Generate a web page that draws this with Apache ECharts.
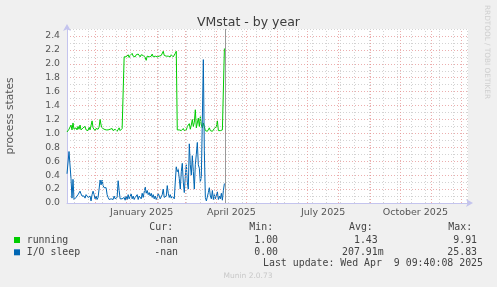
<!DOCTYPE html>
<html><head><meta charset="utf-8">
<script src="https://cdn.jsdelivr.net/npm/echarts@6/dist/echarts.min.js"></script>
<style>html,body{margin:0;padding:0;background:#f0f0f0;}#c{width:497px;height:287px;}</style>
</head><body><div id="c"></div>
<script>
// ---- data ----
const firstDate = '2024-11-03';   // date of the first daily value
const axisStart = '2024-11-03';
const axisEnd = '2025-12-08';
const running = [
  1.02,1.03,1.06,1.04,1.12,1.05,1.15,1.06,1.04,1.08,
  1.05,1.10,1.06,1.12,1.05,1.04,1.08,1.06,1.10,1.05,
  1.07,1.04,1.09,1.05,1.06,1.18,1.08,1.06,1.04,1.07,
  1.05,1.06,1.09,1.20,1.12,1.08,1.10,1.06,1.08,1.05,
  1.07,1.05,1.04,1.06,1.05,1.07,1.04,1.03,1.06,1.05,
  1.03,1.05,1.08,1.04,1.05,1.07,1.05,
  2.10,2.12,2.10,2.11,2.13,2.09,2.12,2.10,2.15,2.11,
  2.12,2.10,2.13,2.11,2.14,2.12,2.10,2.13,2.11,2.12,
  2.14,2.09,2.05,2.11,2.13,2.10,2.12,2.11,2.14,2.10,
  2.12,2.11,2.13,2.10,2.12,2.11,2.13,2.12,2.14,2.18,
  2.12,2.10,2.11,2.13,2.11,2.12,2.10,2.13,2.11,2.10,
  2.12,2.15,2.18,
  1.05,1.03,1.05,1.06,1.04,1.05,1.07,1.04,1.06,1.05,
  1.10,1.08,1.14,1.06,1.12,1.20,1.10,1.16,1.34,1.08,
  1.15,1.22,1.10,1.24,1.12,1.08,1.15,1.10,1.04,1.06,
  1.03,1.05,1.08,1.04,1.06,1.03,1.05,1.07,1.05,1.10,
  1.18,1.04,1.06,1.04,1.05,1.05,1.05,2.22
];
const ioSleep = [
  0.42,0.40,0.74,0.72,0.35,0.07,0.34,0.05,0.06,0.08,
  0.10,0.12,0.14,0.17,0.13,0.10,0.08,0.10,0.07,0.12,
  0.13,0.08,0.06,0.10,0.03,0.12,0.17,0.12,0.06,0.10,
  0.05,0.08,0.20,0.33,0.26,0.33,0.25,0.22,0.20,0.22,
  0.12,0.08,0.05,0.04,0.06,0.08,0.05,0.10,0.06,0.05,
  0.08,0.32,0.18,0.06,0.05,0.06,0.05,0.08,0.04,0.10,
  0.05,0.12,0.06,0.08,0.13,0.06,0.10,0.05,0.08,0.07,
  0.12,0.05,0.10,0.08,0.06,0.14,0.08,0.10,0.23,0.14,
  0.18,0.12,0.15,0.10,0.14,0.08,0.12,0.06,0.10,0.05,
  0.08,0.14,0.10,0.06,0.05,0.12,0.20,0.08,0.06,0.10,
  0.25,0.14,0.08,0.12,0.07,0.10,0.08,0.06,0.30,0.52,
  0.45,0.48,0.35,0.20,0.45,0.57,0.30,0.15,0.38,0.55,
  0.30,0.20,0.85,0.55,0.40,0.68,0.45,0.20,0.55,0.70,
  0.87,0.55,0.50,0.30,0.38,1.20,2.06,0.75,0.08,0.03,
  0.05,0.15,0.22,0.10,0.06,0.18,0.05,0.12,0.06,0.08,
  0.16,0.05,0.10,0.06,0.14,0.04,0.18,0.28
];
const seriesNames = ['running', 'I/O sleep'];
const monthStarts = ['2024-11-01','2024-12-01','2025-01-01','2025-02-01','2025-03-01','2025-04-01',
  '2025-05-01','2025-06-01','2025-07-01','2025-08-01','2025-09-01','2025-10-01','2025-11-01','2025-12-01','2026-01-01'];
const labelMonths = ['2025-01-01','2025-04-01','2025-07-01','2025-10-01'];
const tickLabels = ['January 2025','April 2025','July 2025','October 2025'];
const firstMinorLine = '2024-11-10';
const minorStepDays = 14;
const nowTime = '2025-04-09T09:40:08Z';
const statHeads = ['Cur:','Min:','Avg:','Max:'];
const curVals = ['-nan','-nan'];
const minVals = ['1.00','0.00'];
const avgVals = ['1.43','207.91m'];
const maxVals = ['9.91','25.83'];
const lastUpdate = 'Last update: Wed Apr  9 09:40:08 2025';
const titleText = 'VMstat - by year';
const yName = 'process states';
const sideText = 'RRDTOOL / TOBI OETIKER';
const footer = 'Munin 2.0.73';

// ---- helpers ----
const DAY = 86400000;
const ref = Date.UTC(2025,0,1);
const dayOf = s => (Date.parse(s.length === 10 ? s + 'T00:00:00Z' : s) - ref) / DAY;
const d0 = dayOf(firstDate);
const toPairs = arr => arr.map((v, i) => [d0 + i, v]);
const xMin = dayOf(axisStart), xMax = dayOf(axisEnd);

const monthDays = monthStarts.map(dayOf);
const labelPos = labelMonths.map(m => {
  const i = monthStarts.indexOf(m);
  return (monthDays[i] + monthDays[i + 1]) / 2;
});
const minorDays = [];
for (let d = dayOf(firstMinorLine); d <= xMax; d += minorStepDays) minorDays.push(d);

const RED = 'rgba(228,140,140,0.7)';
const GRAY = 'rgba(200,200,200,0.8)';
const AXIS = '#c4c4ee';
const mono = 'DejaVu Sans Mono';
const green = '#00cc00', blue = '#0066b3';

const colRight = [184, 284, 383.7, 483];
const rowY = [240, 252.3];
const graphics = [];
statHeads.forEach((h, i) => graphics.push({type:'text', x: colRight[i] - 34.7, y: 227.3,
  style:{text:h, font:'9.9px ' + mono, fill:'#444', verticalAlign:'middle'}}));
const cols = [curVals, minVals, avgVals, maxVals];
seriesNames.forEach((n, r) => {
  graphics.push({type:'rect', shape:{x:14, y:rowY[r]-3, width:6, height:6}, style:{fill:[green, blue][r]}});
  graphics.push({type:'text', x:26.7, y:rowY[r], style:{text:n, font:'9.9px ' + mono, fill:'#444', verticalAlign:'middle'}});
  cols.forEach((c, k) => {
    const s = /[a-z]$/i.test(c[r]) && c[r] !== '-nan' ? c[r] : c[r] + ' ';
    graphics.push({type:'text', x: colRight[k], y: rowY[r], style:{text:s, font:'9.9px ' + mono, fill:'#444', align:'right', verticalAlign:'middle'}});
  });
});
graphics.push({type:'text', x:483, y:263.5, style:{text:lastUpdate, font:'9.9px ' + mono, fill:'#444', align:'right', verticalAlign:'middle'}});
graphics.push({type:'text', x:248, y:276, style:{text:footer, font:'7.5px DejaVu Sans', fill:'#c8c8c8', align:'center', verticalAlign:'middle'}});
graphics.push({type:'text', x:487, y:52, rotation:-Math.PI/2, style:{text:sideText, font:'7.3px DejaVu Sans', fill:'#cfcfcf', align:'center', verticalAlign:'middle'}});

const chart = echarts.init(document.getElementById('c'), null, {renderer:'canvas'});
chart.setOption({
  animation:false,
  backgroundColor:'#f0f0f0',
  title:{text:titleText, left:'center', top:11, textStyle:{fontFamily:'DejaVu Sans', fontSize:12.5, fontWeight:'normal', color:'#3c3c3c'}},
  grid:{left:67, top:29, width:401, height:174, show:true, backgroundColor:'#ffffff', borderWidth:0,
    containLabel:false, outerBoundsMode:'none'},
  xAxis:{type:'value', min:xMin, max:xMax,
    axisLine:{show:true, onZero:false, lineStyle:{color:AXIS, width:1}, symbol:['none','arrow'], symbolSize:[6,7], symbolOffset:[0,5]},
    axisTick:{show:false}, splitLine:{show:false},
    axisLabel:{customValues:labelPos, formatter:v => { const i = labelPos.findIndex(p => Math.abs(p - v) < 0.01); return i >= 0 ? tickLabels[i] : ''; },
      color:'#555', fontFamily:'DejaVu Sans', fontSize:9.5, margin:5}},
  yAxis:{type:'value', min:0, max:2.5, interval:0.1,
    name:yName, nameLocation:'middle', nameGap:51, nameTextStyle:{fontFamily:'DejaVu Sans', fontSize:10.7, color:'#555'},
    axisLine:{show:true, onZero:false, lineStyle:{color:AXIS, width:1}, symbol:['none','arrow'], symbolSize:[6,7], symbolOffset:[0,5]},
    axisTick:{show:false},
    splitLine:{show:true, lineStyle:{color:[RED, GRAY], type:[1,2], width:1}},
    axisLabel:{color:'#555', fontFamily:'DejaVu Sans', fontSize:9.3, margin:7,
      formatter:v => Math.round(v*10) % 2 === 0 && v < 2.45 ? v.toFixed(1) : ''}},
  graphic:graphics,
  series:[
    {type:'line', name:'grid', data:[], silent:true, z:1,
     markLine:{silent:true, symbol:'none', label:{show:false}, animation:false,
       data:[
         ...minorDays.map(d => ({xAxis:d, lineStyle:{color:GRAY, type:[1,2], width:1}})),
         ...monthDays.filter(d => d > xMin && d < xMax).map(d => ({xAxis:d, lineStyle:{color:RED, type:[1,2], width:1}}))
       ]}},
    {type:'line', name:seriesNames[0], data:toPairs(running), showSymbol:false, symbol:'none', z:3,
     lineStyle:{color:green, width:1}, itemStyle:{color:green}},
    {type:'line', name:seriesNames[1], data:toPairs(ioSleep), showSymbol:false, symbol:'none', z:4,
     lineStyle:{color:blue, width:1}, itemStyle:{color:blue},
     markLine:{silent:true, symbol:'none', label:{show:false}, animation:false,
       data:[{xAxis:dayOf(nowTime), lineStyle:{color:'#999', type:'solid', width:1}}]}}
  ]
});
</script></body></html>
